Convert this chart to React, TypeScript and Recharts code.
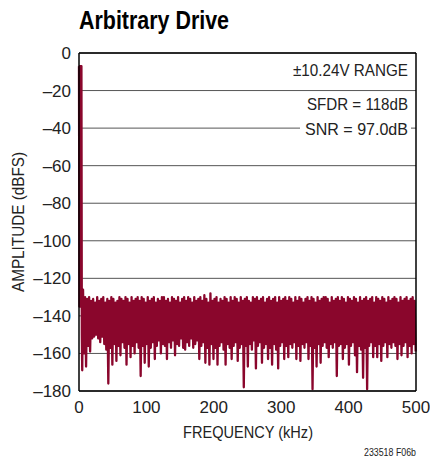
import { LineChart, Line, XAxis, YAxis, CartesianGrid, ReferenceLine } from "recharts";

const FONT = "'Liberation Sans', Arial, Helvetica, sans-serif";
const RED = "#8a062c";

const X_TICKS = [0, 100, 200, 300, 400, 500];
const Y_TICKS = [0, -20, -40, -60, -80, -100, -120, -140, -160, -180];

// fundamental + its leakage skirt (kHz, dBFS)
const FUND_KHZ = [0, 0.6, 1.2, 1.8, 2.4, 3.0, 3.6, 4.2, 4.8];
const FUND_DBFS = [-7, -135, -7, -135, -7, -135, -7, -150, -169];

// noise floor: bins every 3 kHz starting at 6 kHz, upper and lower excursion of each
const NOISE_START_KHZ = 6;
const NOISE_STEP_KHZ = 3;
const NOISE_TOP = [
  -126, -130, -131, -130, -132, -131, -133, -130, -132, -131,
  -130, -133, -131, -132, -130, -131, -133, -132, -130, -131,
  -132, -130, -131, -133, -130, -132, -131, -130, -132, -130,
  -131, -133, -130, -132, -131, -130, -133, -131, -132, -130,
  -130, -132, -131, -133, -130, -131, -132, -130, -133, -131,
  -130, -132, -130, -131, -133, -130, -132, -131, -130, -132,
  -129, -131, -133, -128, -132, -131, -130, -133, -131, -132,
  -130, -131, -133, -130, -132, -130, -131, -133, -130, -132,
  -131, -130, -132, -133, -130, -131, -130, -132, -131, -130,
  -133, -131, -130, -132, -131, -130, -133, -130, -132, -131,
  -130, -132, -130, -131, -133, -130, -132, -130, -131, -133,
  -131, -130, -132, -130, -131, -133, -130, -132, -131, -130,
  -130, -131, -133, -130, -132, -131, -130, -132, -130, -131,
  -133, -130, -131, -132, -130, -131, -133, -130, -132, -131,
  -130, -132, -131, -130, -133, -130, -131, -132, -130, -131,
  -133, -130, -132, -131, -130, -131, -133, -130, -132, -131,
  -130, -132, -131, -130, -132,
];
const NOISE_BOTTOM = [
  -160, -167, -156, -159, -152, -151, -150, -152, -154, -151,
  -155, -158, -176, -157, -166, -155, -164, -156, -161, -154,
  -157, -166, -155, -162, -156, -160, -154, -157, -172, -156,
  -165, -155, -167, -157, -154, -163, -156, -153, -160, -155,
  -156, -163, -154, -157, -153, -161, -155, -156, -152, -157,
  -158, -154, -156, -152, -157, -155, -153, -163, -156, -154,
  -165, -157, -166, -155, -163, -157, -166, -156, -154, -158,
  -166, -155, -157, -163, -156, -154, -164, -157, -155, -178,
  -156, -167, -155, -158, -153, -168, -156, -154, -165, -157,
  -155, -163, -157, -166, -155, -158, -168, -156, -154, -163,
  -156, -162, -155, -157, -154, -163, -156, -164, -155, -157,
  -154, -163, -156, -179, -157, -167, -155, -165, -156, -154,
  -157, -162, -155, -157, -154, -172, -156, -155, -163, -157,
  -155, -166, -156, -154, -161, -170, -156, -158, -173, -157,
  -179, -156, -154, -162, -156, -162, -155, -164, -156, -154,
  -162, -155, -157, -154, -156, -163, -155, -161, -156, -154,
  -162, -156, -160, -155, -159,
];

type Pt = { f: number; a: number };

const points: Pt[] = [];
FUND_KHZ.forEach((f, i) => points.push({ f, a: FUND_DBFS[i] }));
NOISE_TOP.forEach((top, i) => {
  const f = NOISE_START_KHZ + i * NOISE_STEP_KHZ;
  points.push({ f, a: top });
  points.push({ f: f + NOISE_STEP_KHZ / 2, a: NOISE_BOTTOM[i] });
});

const fmtY = (v: number) => (v < 0 ? `–${Math.abs(v)}` : `${v}`);

const tickStyle = { fontSize: 17, fill: "#222", fontFamily: FONT };

export default function App() {
  return (
    <div style={{ position: "absolute", left: 0, top: 0, width: 430, height: 458, background: "#fff" }}>
      <LineChart width={430} height={458} data={points} margin={{ top: 53, right: 14, bottom: 0, left: 0 }}>
        <CartesianGrid vertical={false} stroke="#555" strokeWidth={1} />
        <XAxis
          dataKey="f"
          type="number"
          domain={[0, 500]}
          ticks={X_TICKS}
          interval={0}
          height={67}
          tickLine={false}
          tickMargin={4}
          axisLine={{ stroke: "#000", strokeWidth: 1.5 }}
          tick={tickStyle}
        />
        <YAxis
          type="number"
          domain={[-180, 0]}
          ticks={Y_TICKS}
          interval={0}
          width={79}
          tickLine={false}
          allowDataOverflow
          axisLine={{ stroke: "#000", strokeWidth: 1.5 }}
          tick={tickStyle}
          tickFormatter={fmtY}
        />
        <Line
          dataKey="a"
          type="linear"
          stroke={RED}
          strokeWidth={2.3}
          strokeLinejoin="round"
          dot={false}
          isAnimationActive={false}
        />
        <ReferenceLine y={0} stroke="#000" strokeWidth={1.5} />
        <ReferenceLine x={500} stroke="#000" strokeWidth={1.5} />
      </LineChart>
      <svg
        width={430}
        height={458}
        style={{ position: "absolute", left: 0, top: 0, pointerEvents: "none" }}
        fontFamily={FONT}
      >
        <text x={79} y={29} fontSize={26} fontWeight="bold" fill="#000" textLength={150} lengthAdjust="spacingAndGlyphs">
          Arbitrary Drive
        </text>
        <text x={293} y={76} fontSize={17} fill="#222" textLength={115} lengthAdjust="spacingAndGlyphs">
          ±10.24V RANGE
        </text>
        <text x={307} y={110} fontSize={17} fill="#222" textLength={101} lengthAdjust="spacingAndGlyphs">
          SFDR = 118dB
        </text>
        <rect x={300} y={120} width={111} height={17} fill="#fff" />
        <text x={305} y={135} fontSize={17} fill="#222" textLength={103} lengthAdjust="spacingAndGlyphs">
          SNR = 97.0dB
        </text>
        <text
          transform="translate(24,222) rotate(-90)"
          x={-70}
          y={0}
          fontSize={17}
          fill="#222"
          textLength={140}
          lengthAdjust="spacingAndGlyphs"
        >
          AMPLITUDE (dBFS)
        </text>
        <text x={183} y={438} fontSize={17} fill="#222" textLength={130} lengthAdjust="spacingAndGlyphs">
          FREQUENCY (kHz)
        </text>
        <text x={364} y={456} fontSize={10} fill="#222" textLength={52} lengthAdjust="spacingAndGlyphs">
          233518 F06b
        </text>
      </svg>
    </div>
  );
}
